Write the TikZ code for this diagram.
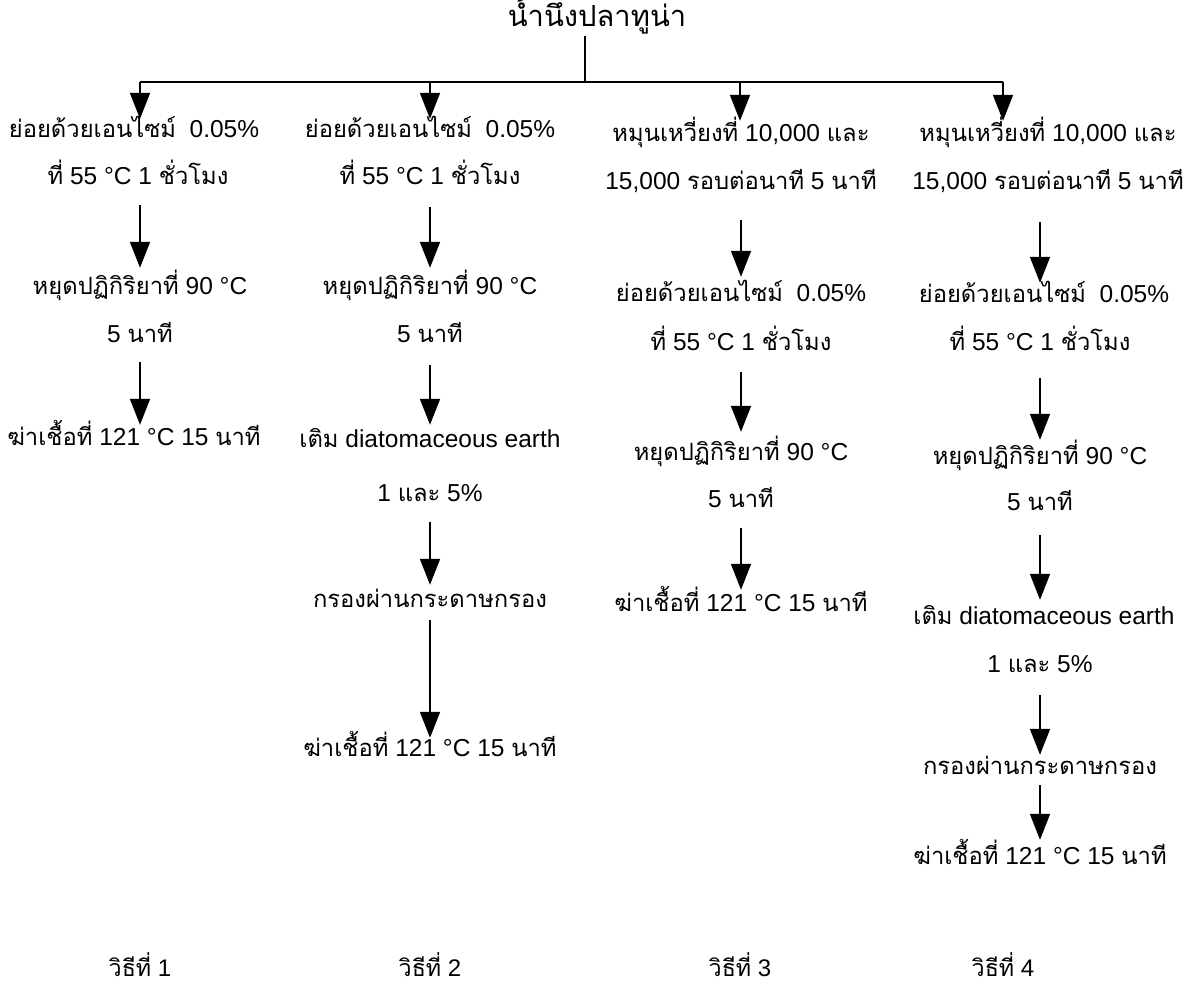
\documentclass[tikz,border=0pt]{standalone}
\usepackage{fontspec}
\setmainfont{Liberation Sans}
\newfontfamily\thai[Script=Thai,Scale=0.97]{Loma}
\newcommand{\thx}[1]{{\thai #1}}
\usetikzlibrary{arrows.meta}

\begin{document}
\begin{tikzpicture}[x=1pt,y=-1pt,
  lbl/.style={font=\fontsize{24.5}{27}\selectfont, inner sep=0pt,
              text height=14pt, text depth=6pt, anchor=center},
  ttl/.style={lbl, font=\fontsize{30}{32}\selectfont},
  tag/.style={lbl, font=\fontsize{24}{26}\selectfont},
  link/.style={line width=1.7pt},
  arr/.style={line width=1.7pt, -{Triangle[width=20pt,length=26pt]}},
  gap/.style 2 args={shorten <=#1pt, shorten >=#2pt}]

\fill[white] (0,0) rectangle (1195,1001);
\useasboundingbox (0,0) rectangle (1195,1001);

% source
\node[ttl] (src) at (597,22) {\thx{น้ำนึ่งปลาทูน่า}};

% column 1
\node[lbl] (a1) at (134,133) {\thx{ย่อยด้วยเอนไซม์}\ \ 0.05\%};
\node[lbl] (a2) at (138,180) {\thx{ที่} 55 °C 1 \thx{ชั่วโมง}};
\node[lbl] (a3) at (140,290) {\thx{หยุดปฏิกิริยาที่} 90 °C};
\node[lbl] (a4) at (140,338) {5 \thx{นาที}};
\node[lbl] (a5) at (134,441) {\thx{ฆ่าเชื้อที่} 121 °C 15 \thx{นาที}};

% column 2
\node[lbl] (b1) at (430,133) {\thx{ย่อยด้วยเอนไซม์}\ \ 0.05\%};
\node[lbl] (b2) at (430,180) {\thx{ที่} 55 °C 1 \thx{ชั่วโมง}};
\node[lbl] (b3) at (430,290) {\thx{หยุดปฏิกิริยาที่} 90 °C};
\node[lbl] (b4) at (430,338) {5 \thx{นาที}};
\node[lbl] (b5) at (430,443) {\thx{เติม} diatomaceous earth};
\node[lbl] (b6) at (430,497) {1 \thx{และ} 5\%};
\node[lbl] (b7) at (430,603) {\thx{กรองผ่านกระดาษกรอง}};
\node[lbl] (b8) at (430,752) {\thx{ฆ่าเชื้อที่} 121 °C 15 \thx{นาที}};

% column 3
\node[lbl] (c1) at (741,137) {\thx{หมุนเหวี่ยงที่} 10,000 \thx{และ}};
\node[lbl] (c2) at (741,185) {15,000 \thx{รอบต่อนาที} 5 \thx{นาที}};
\node[lbl] (c3) at (741,297) {\thx{ย่อยด้วยเอนไซม์}\ \ 0.05\%};
\node[lbl] (c4) at (741,346) {\thx{ที่} 55 °C 1 \thx{ชั่วโมง}};
\node[lbl] (c5) at (741,456) {\thx{หยุดปฏิกิริยาที่} 90 °C};
\node[lbl] (c6) at (741,503) {5 \thx{นาที}};
\node[lbl] (c7) at (741,607) {\thx{ฆ่าเชื้อที่} 121 °C 15 \thx{นาที}};

% column 4
\node[lbl] (d1) at (1048,137) {\thx{หมุนเหวี่ยงที่} 10,000 \thx{และ}};
\node[lbl] (d2) at (1048,185) {15,000 \thx{รอบต่อนาที} 5 \thx{นาที}};
\node[lbl] (d3) at (1044,298) {\thx{ย่อยด้วยเอนไซม์}\ \ 0.05\%};
\node[lbl] (d4) at (1040,346) {\thx{ที่} 55 °C 1 \thx{ชั่วโมง}};
\node[lbl] (d5) at (1040,460) {\thx{หยุดปฏิกิริยาที่} 90 °C};
\node[lbl] (d6) at (1040,506) {5 \thx{นาที}};
\node[lbl] (d7) at (1044,620) {\thx{เติม} diatomaceous earth};
\node[lbl] (d8) at (1040,668) {1 \thx{และ} 5\%};
\node[lbl] (d9) at (1040,770) {\thx{กรองผ่านกระดาษกรอง}};
\node[lbl] (d10) at (1040,860) {\thx{ฆ่าเชื้อที่} 121 °C 15 \thx{นาที}};

% method labels
\node[tag] (m1) at (140,972) {\thx{วิธีที่} 1};
\node[tag] (m2) at (430,972) {\thx{วิธีที่} 2};
\node[tag] (m3) at (740,972) {\thx{วิธีที่} 3};
\node[tag] (m4) at (1003,972) {\thx{วิธีที่} 4};

% distribution bus
\coordinate (hub) at (585,82);
\coordinate (bus1) at (140,82);
\coordinate (bus2) at (430,82);
\coordinate (bus3) at (740,82);
\coordinate (bus4) at (1003,82);
\draw[link, shorten <=4pt] (src.south -| hub) -- (hub);
\draw[link] (bus1) -- (bus4);
\draw[arr, shorten >=4pt] (bus1) -- (bus1 |- a1.north);
\draw[arr, shorten >=4pt] (bus2) -- (bus2 |- b1.north);
\draw[arr, shorten >=6pt] (bus3) -- (bus3 |- c1.north);
\draw[arr, shorten >=6pt] (bus4) -- (bus4 |- d1.north);

% column 1 steps
\draw[arr, gap={15}{12}] (a3 |- a2.south) -- (a3);
\draw[arr, gap={14}{6}] (a4) -- (a4 |- a5.north);

% column 2 steps
\draw[arr, gap={17}{12}] (b2) -- (b3);
\draw[arr, gap={17}{8}] (b4) -- (b5);
\draw[arr, gap={15}{8}] (b6) -- (b7);
\draw[arr, gap={7}{4}] (b7) -- (b8);

% column 3 steps
\draw[arr, gap={25}{10}] (c2.south) -- (c3.north);
\draw[arr, gap={16}{14}] (c4.south) -- (c5.north);
\draw[arr, gap={15}{7}] (c6.south) -- (c7.north);

% column 4 steps
\draw[arr, gap={27}{5}] (d4.south |- d2.south) -- (d4.north |- d3.north);
\draw[arr, gap={22}{10}] (d4.south) -- (d5.north);
\draw[arr, gap={19}{10}] (d6.south) -- (d6.south |- d7.north);
\draw[arr, gap={17}{5}] (d8.south) -- (d9.north);
\draw[arr, gap={5}{10}] (d9.south) -- (d10.north);
\end{tikzpicture}
\end{document}
